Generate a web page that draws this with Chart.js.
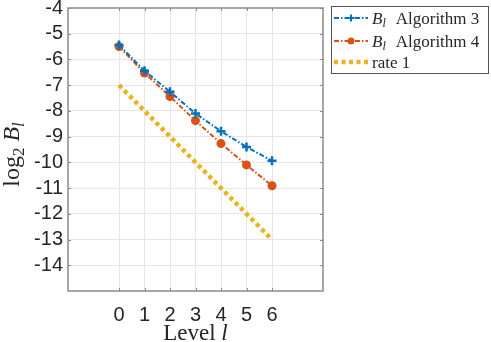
<!DOCTYPE html>
<html>
<head>
<meta charset="utf-8">
<script src="https://cdn.jsdelivr.net/npm/chart.js@4/dist/chart.umd.min.js"></script>
<style>
  html, body { margin: 0; padding: 0; background: #fff; }
  #wrap { position: relative; width: 491px; height: 342px; }
</style>
</head>
<body>
<div id="wrap"><canvas id="levelChart" width="491" height="342"></canvas></div>
<script>
// data
const levels = [0, 1, 2, 3, 4, 5, 6];
const alg3 = [-5.44, -6.44, -7.26, -8.10, -8.79, -9.40, -9.94];
const alg4 = [-5.50, -6.53, -7.44, -8.38, -9.27, -10.10, -10.91];
const rate1 = [-7, -8, -9, -10, -11, -12, -13];
const xTicks = [0, 1, 2, 3, 4, 5, 6];
const yTicks = [-14, -13, -12, -11, -10, -9, -8, -7, -6, -5, -4];

const BLUE = '#0072BD', ORANGE = '#D95319', YELLOW = '#EDB120';
const BOX = '#8a8a8a', GRID = '#e6e6e6', TXT = '#262626';
const SERIF = '"Liberation Serif", "DejaVu Serif", serif';
const SANS = '"Liberation Sans", Arial, sans-serif';

const pts = (ys) => levels.map((x, i) => ({ x: x, y: ys[i] }));

const series = [
    { label: 'Algorithm 3', data: pts(alg3), borderColor: BLUE, backgroundColor: BLUE,
      borderWidth: 2, borderDash: [5, 2, 1.5, 2], pointStyle: 'cross', pointRadius: 4.5,
      pointBorderWidth: 2.5, sub: true },
    { label: 'Algorithm 4', data: pts(alg4), borderColor: ORANGE, backgroundColor: ORANGE,
      borderWidth: 2, borderDash: [5, 2, 1.5, 2], pointStyle: 'circle', pointRadius: 4.5,
      pointBorderWidth: 0, sub: true },
    { label: 'rate 1', data: pts(rate1), borderColor: YELLOW, backgroundColor: YELLOW,
      borderWidth: 4.5, borderDash: [4, 3.5], pointRadius: 0, sub: false }
];

// box, inward ticks, axis titles and legend
const decor = {
    id: 'decor',
    afterDraw(chart) {
        const { ctx, chartArea: a, scales } = chart;
        ctx.save();
        ctx.strokeStyle = BOX;
        ctx.lineWidth = 1.5;
        ctx.setLineDash([]);
        ctx.strokeRect(a.left, a.top, a.right - a.left, a.bottom - a.top);
        ctx.lineWidth = 1;
        ctx.beginPath();
        yTicks.forEach(v => {
            const y = Math.round(scales.y.getPixelForValue(v)) + 0.5;
            ctx.moveTo(a.left, y); ctx.lineTo(a.left + 3, y);
            ctx.moveTo(a.right, y); ctx.lineTo(a.right - 3, y);
        });
        xTicks.forEach(v => {
            const x = Math.round(scales.x.getPixelForValue(v)) + 0.5;
            ctx.moveTo(x, a.bottom); ctx.lineTo(x, a.bottom - 3);
            ctx.moveTo(x, a.top); ctx.lineTo(x, a.top + 3);
        });
        ctx.stroke();

        ctx.fillStyle = TXT;
        ctx.textBaseline = 'alphabetic';
        // x title: Level l
        const t1 = 'Level ';
        ctx.font = 'italic 23px ' + SERIF;
        const wl = ctx.measureText('l').width;
        ctx.font = '23px ' + SERIF;
        const w1 = ctx.measureText(t1).width;
        let x0 = (a.left + a.right) / 2 - (w1 + wl) / 2;
        ctx.fillText(t1, x0, 340);
        ctx.font = 'italic 23px ' + SERIF;
        ctx.fillText('l', x0 + w1, 340);

        // y title: log2 B_l
        ctx.save();
        ctx.translate(19, (a.top + a.bottom) / 2 + 5);
        ctx.rotate(-Math.PI / 2);
        const parts = [
            { t: 'log', f: '24px ', dy: 0 },
            { t: '2', f: '17px ', dy: 5 },
            { t: ' ', f: '24px ', dy: 0 },
            { t: 'B', f: 'italic 24px ', dy: 0 },
            { t: 'l', f: 'italic 17px ', dy: 5 }
        ];
        let tw = 0;
        parts.forEach(p => { ctx.font = p.f + SERIF; p.w = ctx.measureText(p.t).width; tw += p.w; });
        let cx = -tw / 2;
        parts.forEach(p => { ctx.font = p.f + SERIF; ctx.fillText(p.t, cx, p.dy); cx += p.w; });
        ctx.restore();

        // legend
        const lx = 331, ly = 6, lw = 157, lh = 67;
        ctx.fillStyle = '#fff';
        ctx.fillRect(lx, ly, lw, lh);
        ctx.strokeStyle = '#555';
        ctx.lineWidth = 1;
        ctx.strokeRect(lx + 0.5, ly + 0.5, lw, lh);
        const rows = [18, 41, 62];
        series.forEach((s, i) => {
            const y = rows[i];
            ctx.strokeStyle = s.borderColor;
            ctx.lineWidth = s.borderWidth;
            ctx.setLineDash(s.borderDash);
            ctx.beginPath();
            ctx.moveTo(lx + 3, y); ctx.lineTo(lx + 37, y);
            ctx.stroke();
            ctx.setLineDash([]);
            if (s.pointStyle === 'cross') {
                ctx.lineWidth = 2;
                ctx.beginPath();
                ctx.moveTo(lx + 20, y - 3.5); ctx.lineTo(lx + 20, y + 3.5);
                ctx.moveTo(lx + 16.5, y); ctx.lineTo(lx + 23.5, y);
                ctx.stroke();
            } else if (s.pointStyle === 'circle') {
                ctx.fillStyle = s.borderColor;
                ctx.beginPath(); ctx.arc(lx + 20, y, 3.5, 0, Math.PI * 2); ctx.fill();
            }
            ctx.fillStyle = TXT;
            let tx = lx + 41;
            const by = y + 6;
            if (s.sub) {
                ctx.font = 'italic 17px ' + SERIF;
                ctx.fillText('B', tx, by); tx += ctx.measureText('B').width;
                ctx.font = 'italic 12px ' + SERIF;
                ctx.fillText('l', tx, by + 3); tx += ctx.measureText('l').width + 10;
            }
            ctx.font = '17px ' + SERIF;
            ctx.fillText(s.label, tx, by);
        });
        ctx.restore();
    }
};

new Chart(document.getElementById('levelChart').getContext('2d'), {
    type: 'line',
    data: {
        datasets: series.map(s => ({
            label: s.label, data: s.data, borderColor: s.borderColor, backgroundColor: s.backgroundColor,
            borderWidth: s.borderWidth, borderDash: s.borderDash, pointStyle: s.pointStyle || 'circle',
            pointRadius: s.pointRadius, pointBorderWidth: s.pointBorderWidth || 0,
            pointBorderColor: s.borderColor, pointBackgroundColor: s.borderColor,
            tension: 0, fill: false
        }))
    },
    options: {
        responsive: false,
        animation: false,
        layout: { padding: { left: 0, top: 8, right: 168, bottom: 0 } },
        plugins: { legend: { display: false }, tooltip: { enabled: false } },
        scales: {
            x: {
                type: 'linear', min: -2, max: 8,
                afterFit: s => { s.height = 51; s.paddingLeft = 0; s.paddingRight = 0; },
                afterBuildTicks: s => { s.ticks = [-2, -1, 0, 1, 2, 3, 4, 5, 6, 7, 8].map(v => ({ value: v })); },
                ticks: {
                    autoSkip: false, maxRotation: 0, padding: 12, color: TXT,
                    font: { family: SANS, size: 20 },
                    callback: v => xTicks.includes(v) ? String(v) : ''
                },
                grid: { drawTicks: false, color: c => xTicks.includes(c.tick.value) ? GRID : 'rgba(0,0,0,0)' },
                border: { display: false }
            },
            y: {
                type: 'linear', min: -15, max: -4,
                afterFit: s => { s.width = 68; s.paddingTop = 0; s.paddingBottom = 0; },
                afterBuildTicks: s => { s.ticks = [-15].concat(yTicks).map(v => ({ value: v })); },
                ticks: {
                    autoSkip: false, padding: 5, color: TXT,
                    font: { family: SANS, size: 20 },
                    callback: v => yTicks.includes(v) ? String(v) : ''
                },
                grid: { drawTicks: false, color: c => (c.tick.value > -15 && c.tick.value < -4) ? GRID : 'rgba(0,0,0,0)' },
                border: { display: false }
            }
        }
    },
    plugins: [decor]
});
</script>
</body>
</html>
